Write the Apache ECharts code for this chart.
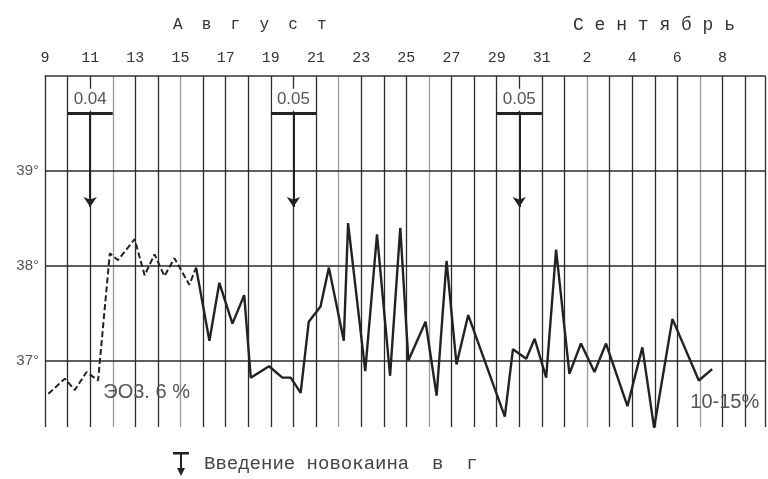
<!DOCTYPE html>
<html>
<head>
<meta charset="utf-8">
<script src="https://cdn.jsdelivr.net/npm/echarts@6/dist/echarts.min.js"></script>
<style>
html,body{margin:0;padding:0;background:#fff;}
#c{width:768px;height:479px;}
</style>
</head>
<body>
<div id="c"></div>
<script>
// Day offsets counted from 9 August (0 = Aug 9, 22 = Aug 31, 23 = Sep 1)
const tickLabels = ['9','11','13','15','17','19','21','23','25','27','29','31','2','4','6','8'];
const yLines = [37, 38, 39];

// Dashed part of the temperature curve (before treatment)
const dashedDays  = [0.15, 0.88, 1.32, 1.84, 2.35, 2.87, 3.23, 3.97, 4.41, 4.85, 5.29, 5.73, 6.39, 6.69];
const dashedTemps = [36.65, 36.81, 36.69, 36.88, 36.79, 38.13, 38.06, 38.28, 37.90, 38.12, 37.89, 38.08, 37.80, 37.98];

// Solid part of the temperature curve
const solidDays  = [6.69, 7.28, 7.72, 8.30, 8.82, 9.11, 9.92, 10.51, 10.88, 11.32, 11.68, 12.20, 12.57, 13.23, 13.42,
                    14.18, 14.70, 15.28, 15.73, 16.09, 16.85, 17.34, 17.78, 18.22, 18.74, 20.36, 20.72, 21.31, 21.68,
                    22.19, 22.63, 23.22, 23.73, 24.33, 24.84, 25.79, 26.45, 26.97, 27.78, 28.95, 29.54];
const solidTemps = [37.98, 37.21, 37.82, 37.39, 37.69, 36.82, 36.94, 36.82, 36.82, 36.66, 37.41, 37.57, 37.98, 37.21, 38.45,
                    36.89, 38.33, 36.84, 38.40, 37.00, 37.41, 36.63, 38.05, 36.96, 37.48, 36.41, 37.12, 37.02, 37.23,
                    36.82, 38.17, 36.86, 37.18, 36.88, 37.18, 36.52, 37.14, 36.29, 37.44, 36.79, 36.91];

// Novocaine injections: day, dose label
const injDays   = [2, 11, 21];
const injLabels = ['0.04', '0.05', '0.05'];

// Other notes
const notes = [
  { day: 4.5,  temp: 36.66, text: 'ЭО3. 6 %' },
  { day: 30.1, temp: 36.56, text: '10-15%' }
];

const legendName = 'Введение новокаина  в  г';

// lighter (faded) grid lines
const faded = [3, 6, 13, 17, 24, 29];
const vColors = [];
for (let i = 0; i < 32; i++) vColors.push(faded.indexOf(i) >= 0 ? '#9a9a9a' : '#2a2a2a');

const chart = echarts.init(document.getElementById('c'));
const monoFont = '"Liberation Mono", "DejaVu Sans Mono", monospace';
const sansFont = '"Liberation Sans", "DejaVu Sans", sans-serif';

chart.setOption({
  animation: false,
  backgroundColor: '#fff',
  title: [
    { text: 'А  в  г  у  с  т', left: 168, top: 12,
      textStyle: { fontFamily: monoFont, fontSize: 16, fontWeight: 'normal', color: '#333' } },
    { text: 'С е н т я б р ь', left: 568, top: 11,
      textStyle: { fontFamily: monoFont, fontSize: 18, fontWeight: 'normal', color: '#333' } }
  ],
  legend: {
    left: 168, top: 447,
    itemWidth: 16, itemHeight: 24,
    data: [{ name: legendName,
      icon: 'path://M0,0 L16,0 L16,2.5 L9,2.5 L9,16 L12,16 L8,24 L4,16 L7,16 L7,2.5 L0,2.5 Z' }],
    textStyle: { fontFamily: monoFont, fontSize: 19, color: '#444', padding: [0, 0, 0, 10] }
  },
  grid: { left: 45, right: 0, top: 76, bottom: 52 },
  xAxis: {
    type: 'value', position: 'top', min: 0, max: 31.88, interval: 1,
    axisLine: { show: true, lineStyle: { color: '#333', width: 1.5 } },
    axisTick: { show: false },
    axisLabel: {
      margin: 10, fontFamily: monoFont, fontSize: 15, color: '#333',
      formatter: function (v) {
        if (Math.abs(v - Math.round(v)) > 1e-6) return '';
        const r = Math.round(v);
        return r % 2 === 0 ? (tickLabels[r / 2] || '') : '';
      }
    },
    splitLine: { show: true, lineStyle: { color: vColors, width: 1.3 } }
  },
  yAxis: {
    type: 'value', min: 36.3, max: 40,
    axisLine: { show: false }, axisTick: { show: false },
    axisLabel: { show: false }, splitLine: { show: false }
  },
  series: [
    {
      type: 'line', name: 'dashed',
      data: dashedDays.map((d, i) => [d, dashedTemps[i]]),
      symbol: 'none', z: 5,
      lineStyle: { color: '#222', width: 2, type: [6, 3] },
      markLine: {
        silent: true, symbol: 'none',
        lineStyle: { color: '#2a2a2a', width: 1.5, type: 'solid' },
        label: {
          position: 'start', distance: 6, fontFamily: sansFont, fontSize: 15, color: '#555',
          formatter: p => p.value + '°'
        },
        data: yLines.map(v => ({ yAxis: v }))
      }
    },
    {
      type: 'line', name: 'solid',
      data: solidDays.map((d, i) => [d, solidTemps[i]]),
      symbol: 'none', z: 5,
      lineStyle: { color: '#222', width: 2.4 }
    },
    {
      type: 'line', name: legendName, data: [],
      itemStyle: { color: '#222' }, lineStyle: { color: '#222' },
      markLine: {
        silent: true, symbol: ['none', 'arrow'], symbolSize: 10,
        lineStyle: { color: '#222', width: 2, type: 'solid' },
        label: { show: false },
        data: injDays.map(d => [{ coord: [d, 39.61] }, { coord: [d, 38.62] }])
      }
    },
    {
      type: 'line', name: 'notes', data: [],
      markLine: {
        silent: true, symbol: 'none',
        lineStyle: { color: '#222', width: 3, type: 'solid' },
        label: { show: false },
        data: injDays.map(d => [{ coord: [d - 1, 39.61] }, { coord: [d + 1, 39.61] }])
      },
      markPoint: {
        silent: true,
        data: injDays.map((d, i) => ({
          coord: [d, 39.75], name: injLabels[i], symbol: 'rect', symbolSize: [42, 22],
          itemStyle: { color: '#fff' },
          label: { show: true, position: 'inside', formatter: '{b}', fontFamily: sansFont, fontSize: 17, color: '#555' }
        })).concat(notes.map(n => ({
          coord: [n.day, n.temp], name: n.text, symbol: 'rect', symbolSize: 1,
          itemStyle: { color: 'rgba(0,0,0,0)' },
          label: { show: true, position: 'inside', formatter: '{b}', fontFamily: sansFont, fontSize: 20, color: '#555' }
        })))
      }
    }
  ]
});
</script>
</body>
</html>
